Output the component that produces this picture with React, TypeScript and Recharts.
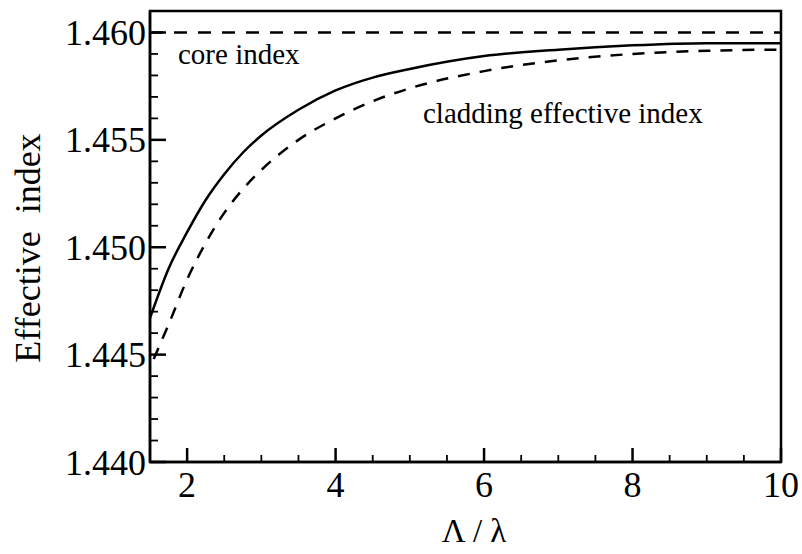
import React from "react";
import {
  Line,
  LineChart,
  ReferenceArea,
  ReferenceLine,
  XAxis,
  YAxis,
} from "recharts";

// guided mode (solid) and cladding effective index (dashed)
const solidX = [1.5, 1.75, 2, 2.25, 2.5, 2.75, 3, 3.5, 4, 4.5, 5, 6, 7, 8, 9, 10];
const solidN = [
  1.4467, 1.449, 1.4507, 1.4522, 1.4534, 1.4544, 1.4552, 1.4564, 1.4573,
  1.4579, 1.4583, 1.4589, 1.4592, 1.4594, 1.4595, 1.4595,
];
const cladX = [1.55, 1.75, 2, 2.25, 2.5, 2.75, 3, 3.5, 4, 4.5, 5, 6, 7, 8, 9, 10];
const cladN = [
  1.4448, 1.4464, 1.4485, 1.4502, 1.4516, 1.4527, 1.4536, 1.455, 1.456,
  1.4568, 1.4574, 1.4582, 1.4587, 1.459, 1.45915, 1.4592,
];
const coreIndex = 1.46;

const xMajorTicks = [2, 4, 6, 8, 10];
const xMinorTicks = [2.5, 3, 3.5, 4.5, 5, 5.5, 6.5, 7, 7.5, 8.5, 9, 9.5];
const yMajorTicks = [1.44, 1.445, 1.45, 1.455, 1.46];
const yMinorTicks = [
  1.441, 1.442, 1.443, 1.444, 1.446, 1.447, 1.448, 1.449, 1.451, 1.452,
  1.453, 1.454, 1.456, 1.457, 1.458, 1.459,
];

const FONT = '"Liberation Serif", "DejaVu Serif", serif';
const X_MARGIN = 9;
const Y_MARGIN = 4;

const solidData = solidX.map((x, i) => ({ x, n: solidN[i] }));
const cladData = cladX.map((x, i) => ({ x, n: cladN[i] }));

const isMajor = (list: number[], v: number) =>
  list.some((m) => Math.abs(m - v) < 1e-6);

function XTick(props: any) {
  const { x, y, payload } = props;
  const axisY = y - X_MARGIN;
  const major = isMajor(xMajorTicks, payload.value);
  return (
    <g>
      <line
        x1={x}
        x2={x}
        y1={axisY}
        y2={axisY - (major ? 14 : 7)}
        stroke="#000"
        strokeWidth={major ? 2.5 : 1.8}
      />
      {major && (
        <text
          x={x}
          y={y}
          dy="0.71em"
          textAnchor="middle"
          fontFamily={FONT}
          fontSize={36}
          fill="#000"
        >
          {payload.value}
        </text>
      )}
    </g>
  );
}

function YTick(props: any) {
  const { x, y, payload } = props;
  const axisX = x + Y_MARGIN;
  const major = isMajor(yMajorTicks, payload.value);
  return (
    <g>
      <line
        x1={axisX}
        x2={axisX + (major ? 16 : 8)}
        y1={y}
        y2={y}
        stroke="#000"
        strokeWidth={major ? 2.5 : 1.8}
      />
      {major && (
        <text
          x={x}
          y={y}
          dy="0.35em"
          textAnchor="end"
          fontFamily={FONT}
          fontSize={36}
          fill="#000"
        >
          {payload.value.toFixed(3)}
        </text>
      )}
    </g>
  );
}

export default function App() {
  return (
    <div style={{ position: "absolute", left: 0, top: 0, background: "#fff" }}>
      <LineChart
        width={802}
        height={554}
        margin={{ top: 11, right: 21, left: 0, bottom: 0 }}
      >
        <XAxis
          dataKey="x"
          type="number"
          domain={[1.5, 10]}
          ticks={[...xMajorTicks, ...xMinorTicks].sort((a, b) => a - b)}
          interval={0}
          height={92}
          tickSize={0}
          tickMargin={X_MARGIN}
          tickLine={false}
          tick={<XTick />}
          axisLine={{ stroke: "#000", strokeWidth: 2.5 }}
          allowDataOverflow
        />
        <YAxis
          type="number"
          domain={[1.44, 1.461]}
          ticks={[...yMajorTicks, ...yMinorTicks].sort((a, b) => a - b)}
          interval={0}
          width={150}
          tickSize={0}
          tickMargin={Y_MARGIN}
          tickLine={false}
          tick={<YTick />}
          axisLine={{ stroke: "#000", strokeWidth: 2.5 }}
          allowDataOverflow
        />
        <ReferenceArea
          x1={1.5}
          x2={10}
          y1={1.44}
          y2={1.461}
          fill="none"
          stroke="#000"
          strokeWidth={2.5}
          ifOverflow="visible"
        />
        <ReferenceLine
          y={coreIndex}
          stroke="#000"
          strokeWidth={2.5}
          strokeDasharray="13 11"
        />
        <Line
          data={solidData}
          dataKey="n"
          type="monotone"
          stroke="#000"
          strokeWidth={2.5}
          dot={false}
          isAnimationActive={false}
        />
        <Line
          data={cladData}
          dataKey="n"
          type="monotone"
          stroke="#000"
          strokeWidth={2.5}
          strokeDasharray="12 10"
          dot={false}
          isAnimationActive={false}
        />
        <text x={178} y={64} fontFamily={FONT} fontSize={29} fill="#000">
          core index
        </text>
        <text x={423} y={123} fontFamily={FONT} fontSize={29} fill="#000">
          cladding effective index
        </text>
        <text
          x={474}
          y={542}
          textAnchor="middle"
          fontFamily={FONT}
          fontSize={33}
          fill="#000"
        >
          Λ / λ
        </text>
        <text
          transform="translate(40 248) rotate(-90)"
          textAnchor="middle"
          fontFamily={FONT}
          fontSize={36}
          fill="#000"
          style={{ whiteSpace: "pre" }}
        >
          Effective  index
        </text>
      </LineChart>
    </div>
  );
}
